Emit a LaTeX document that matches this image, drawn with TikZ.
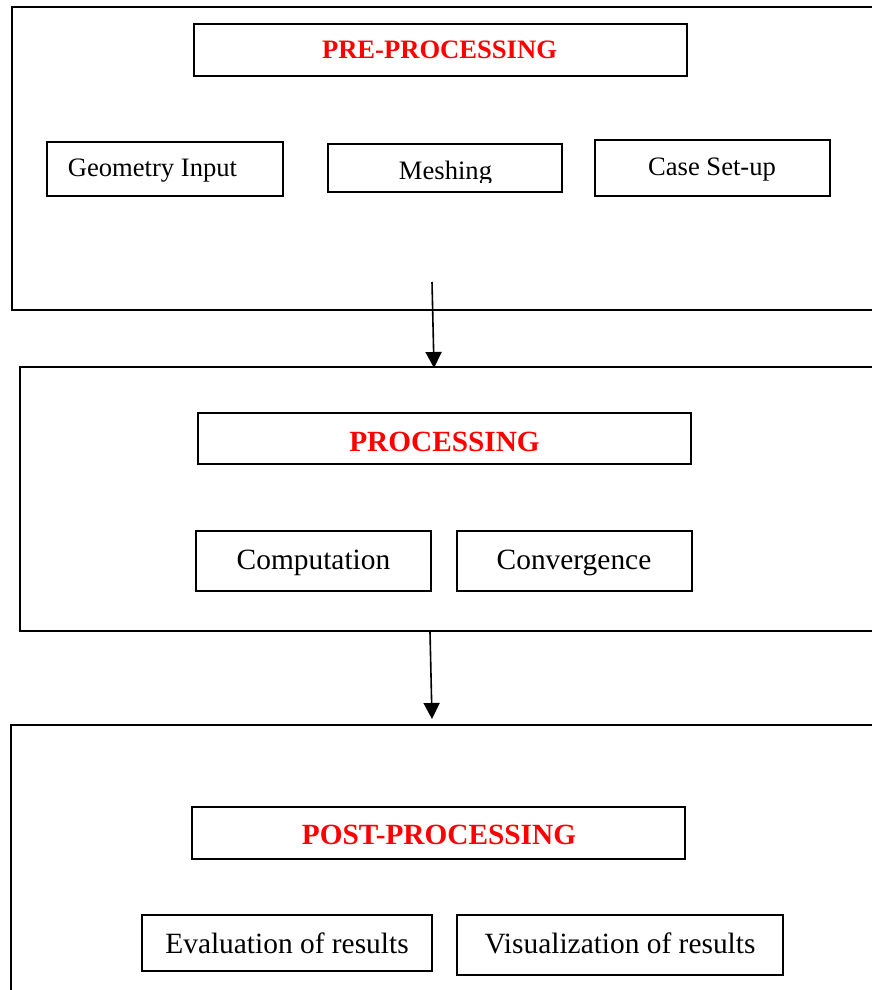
\documentclass[tikz,border=0pt]{standalone}
\usepackage{fontspec}
\setmainfont{Liberation Serif}
\usetikzlibrary{arrows.meta}
\begin{document}
\begin{tikzpicture}[x=1pt,y=-1pt,
  stage/.style={draw=black, line width=1.9pt, inner sep=0pt},
  box/.style={draw=black, line width=1.9pt, inner sep=0pt},
  small/.style={font=\fontsize{26.6}{30}\selectfont, inner sep=0pt, anchor=base},
  big/.style={font=\fontsize{29.4}{33}\selectfont, inner sep=0pt, anchor=base},
  headsmall/.style={font=\fontsize{26.6}{30}\selectfont\bfseries, text=red, inner sep=0pt, anchor=base},
  headbig/.style={font=\fontsize{29.3}{33}\selectfont\bfseries, text=red, inner sep=0pt, anchor=base},
  flow/.style={line width=1.6pt, -{Triangle[length=16pt,width=16pt]}}]
\useasboundingbox (0,0) rectangle (872,990);
\clip (0,0) rectangle (872,990);

% stages
\node[stage, minimum width=868pt, minimum height=303pt] (s1) at (446,158.5) {};
\node[stage, minimum width=860pt, minimum height=264pt] (s2) at (450,499) {};
\node[stage, minimum width=869pt, minimum height=285pt] (s3) at (445.5,867.5) {};

% pre-processing
\node[box, minimum width=493pt, minimum height=52pt] (pre) at (440.5,50) {};
\node[headsmall] (pret) at (439.5,59) {PRE-PROCESSING};
\node[box, minimum width=236pt, minimum height=54pt] (geo) at (165,169) {};
\node[small] (geot) at (152.5,176) {Geometry Input};
\node[box, minimum width=234pt, minimum height=48pt] (mesh) at (445,168) {};
\begin{scope}
\clip (330,146) rectangle (560,182);
\node[small] (mesht) at (445.5,179) {Meshing};
\end{scope}
\node[box, minimum width=235pt, minimum height=56pt] (case) at (712.5,168) {};
\node[small] (caset) at (712,175) {Case Set-up};

% processing
\node[box, minimum width=493pt, minimum height=51pt] (proc) at (444.5,438.5) {};
\node[headbig] (proct) at (444.5,451) {PROCESSING};
\node[box, minimum width=235pt, minimum height=60pt] (comp) at (313.5,561) {};
\node[big] (compt) at (313.5,569) {Computation};
\node[box, minimum width=235pt, minimum height=60pt] (conv) at (574.5,561) {};
\node[big] (convt) at (574,569) {Convergence};

% post-processing
\node[box, minimum width=493pt, minimum height=52pt] (post) at (438.5,833) {};
\node[headbig] (postt) at (439,844) {POST-PROCESSING};
\node[box, minimum width=290pt, minimum height=56pt] (eval) at (287,943) {};
\node[big] (evalt) at (287,953) {Evaluation of results};
\node[box, minimum width=326pt, minimum height=60pt] (vis) at (620,945) {};
\node[big] (vist) at (620,953) {Visualization of results};

% arrows
\coordinate (a1s) at (432,282);
\coordinate (a1e) at (434,368);
\coordinate (a2s) at (430,632);
\coordinate (a2e) at (432,719);
\draw[flow] (a1s) -- (a1e);
\draw[flow] (a2s) -- (a2e);
\end{tikzpicture}
\end{document}
